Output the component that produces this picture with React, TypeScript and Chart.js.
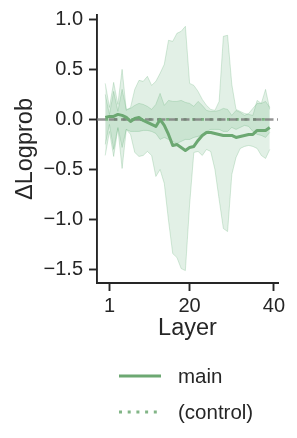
import React, { useEffect, useRef } from "react";
import { Chart, registerables } from "chart.js";

Chart.register(...registerables);

// ---------- data ----------
const LAYERS = [
  0, 1, 2, 3, 4, 5, 6, 7, 8, 9, 10, 11, 12, 13, 14, 15, 16, 17, 18, 19,
  20, 21, 22, 23, 24, 25, 26, 27, 28, 29, 30, 31, 32, 33, 34, 35, 36, 37, 38, 39,
];
const X_TICKS = [1, 20, 40];
const Y_TICKS = [-1.5, -1.0, -0.5, 0.0, 0.5, 1.0];

const MAIN = [
  0.02, 0.03, 0.03, 0.05, 0.04, 0.02, -0.02, 0.01, 0.02, -0.01,
  -0.03, -0.05, -0.07, 0.0, -0.06, -0.15, -0.26, -0.25, -0.28, -0.31,
  -0.28, -0.27, -0.21, -0.16, -0.13, -0.13, -0.14, -0.15, -0.16, -0.16,
  -0.16, -0.18, -0.17, -0.16, -0.15, -0.15, -0.11, -0.11, -0.11, -0.08,
];
const MAIN_HI = [
  0.36, 0.12, 0.37, 0.15, 0.5, 0.09, 0.12, 0.3, 0.39, 0.38,
  0.43, 0.34, 0.38, 0.46, 0.55, 0.79, 0.78, 0.86, 0.88, 0.93,
  0.36, 0.34, 0.28, 0.2, 0.14, 0.1, 0.09, 0.18, 0.83, 0.84,
  0.35, 0.1, 0.08, 0.06, 0.05, 0.04, 0.19, 0.16, 0.3, 0.1,
];
const MAIN_LO = [
  -0.36, -0.12, -0.37, -0.09, -0.49, -0.1, -0.15, -0.33, -0.37, -0.36,
  -0.32, -0.36, -0.57, -0.5, -0.64, -1.01, -1.34, -1.38, -1.49, -1.51,
  -0.85, -0.33, -0.32, -0.36, -0.3, -0.32, -0.5, -0.8, -1.09, -1.12,
  -0.55, -0.38, -0.29, -0.27, -0.26, -0.27, -0.29, -0.36, -0.39, -0.3,
];
const CONTROL = [
  0, 0, 0, 0, 0, 0, 0, 0, 0, 0,
  0, 0, 0, 0, 0, 0, 0, 0, 0, 0,
  0, 0, 0, 0, 0, 0, 0, 0, 0, 0,
  0, 0, 0, 0, 0, 0, 0, 0, 0, 0,
];
const CONTROL_HI = [
  0.25, 0.05, 0.28, 0.08, 0.3, 0.1, 0.11, 0.14, 0.16, 0.15,
  0.13, 0.1, 0.15, 0.26, 0.14, 0.19, 0.18, 0.18, 0.19, 0.17,
  0.16, 0.13, 0.18, 0.14, 0.09, 0.08, 0.08, 0.09, 0.11, 0.1,
  0.04, 0.09, 0.07, 0.04, 0.06, 0.11, 0.16, 0.16, 0.18, 0.12,
];
const CONTROL_LO = [
  -0.25, -0.05, -0.3, -0.08, -0.28, -0.1, -0.12, -0.12, -0.12, -0.11,
  -0.11, -0.12, -0.14, -0.2, -0.18, -0.2, -0.22, -0.24, -0.22, -0.2,
  -0.2, -0.18, -0.17, -0.15, -0.12, -0.1, -0.1, -0.1, -0.12, -0.12,
  -0.08, -0.1, -0.08, -0.06, -0.07, -0.12, -0.15, -0.16, -0.18, -0.13,
];
const ZERO_LINE = 0;

// ---------- style ----------
const FONT = "'Liberation Sans', Arial, Helvetica, sans-serif";
const INK = "#262626";
const GREEN = "rgb(108,168,114)";
const GREEN_DOT = "rgba(108,168,114,0.85)";
const BAND_FILL = "rgba(85,168,104,0.17)";
const BAND_EDGE = "rgba(85,168,104,0.24)";
const ZERO_COLOR = "rgba(120,120,120,0.8)";

const pts = (arr: number[]) => LAYERS.map((x, i) => ({ x, y: arr[i] }));

const zeroLinePlugin = {
  id: "zeroLine",
  beforeDatasetDraw(chart: any, args: any) {
    if (args.index !== 0) return;
    const { ctx, chartArea, scales } = chart;
    const y = scales.y.getPixelForValue(ZERO_LINE);
    ctx.save();
    ctx.strokeStyle = ZERO_COLOR;
    ctx.lineWidth = 2.5;
    ctx.setLineDash([8.5, 3.5]);
    ctx.beginPath();
    ctx.moveTo(chartArea.left, y);
    ctx.lineTo(chartArea.right, y);
    ctx.stroke();
    ctx.restore();
  },
};

const legendPlugin = {
  id: "lineLegend",
  afterDraw(chart: any) {
    const { ctx, chartArea } = chart;
    const items = chart.data.datasets.filter((d: any) => d.label);
    ctx.save();
    ctx.font = `20.5px ${FONT}`;
    ctx.textBaseline = "middle";
    ctx.textAlign = "left";
    items.forEach((ds: any, r: number) => {
      const y = chartArea.bottom + 93 + r * 36;
      const x0 = chartArea.left + 22;
      ctx.strokeStyle = ds.borderColor;
      ctx.lineWidth = ds.borderWidth;
      ctx.setLineDash(ds.borderDash || []);
      ctx.beginPath();
      ctx.moveTo(x0, y);
      ctx.lineTo(x0 + 42, y);
      ctx.stroke();
      ctx.setLineDash([]);
      ctx.fillStyle = INK;
      ctx.fillText(ds.label, x0 + 59, y + 1);
    });
    ctx.restore();
  },
};

export default function App() {
  const ref = useRef<HTMLCanvasElement | null>(null);

  useEffect(() => {
    if (!ref.current) return;
    const tickFont = { family: FONT, size: 20 };
    const titleFont = { family: FONT, size: 23.5 };
    const chart = new Chart(ref.current, {
      type: "line",
      data: {
        datasets: [
          {
            label: "main",
            data: pts(MAIN),
            borderColor: GREEN,
            borderWidth: 3,
            borderJoinStyle: "round",
            pointRadius: 0,
            fill: false,
            tension: 0,
          },
          {
            label: "(control)",
            data: pts(CONTROL),
            borderColor: GREEN_DOT,
            borderWidth: 2.8,
            borderDash: [3, 5.7],
            pointRadius: 0,
            fill: false,
          },
          {
            label: "",
            data: pts(CONTROL_HI),
            borderColor: BAND_EDGE,
            backgroundColor: BAND_FILL,
            borderWidth: 1,
            pointRadius: 0,
            fill: "+1",
          },
          {
            label: "",
            data: pts(CONTROL_LO),
            borderColor: BAND_EDGE,
            borderWidth: 1,
            pointRadius: 0,
            fill: false,
          },
          {
            label: "",
            data: pts(MAIN_HI),
            borderColor: BAND_EDGE,
            backgroundColor: BAND_FILL,
            borderWidth: 1,
            pointRadius: 0,
            fill: "+1",
          },
          {
            label: "",
            data: pts(MAIN_LO),
            borderColor: BAND_EDGE,
            borderWidth: 1,
            pointRadius: 0,
            fill: false,
          },
        ],
      },
      options: {
        responsive: false,
        animation: false,
        devicePixelRatio: 1,
        layout: { padding: { top: 15, right: 19, bottom: 95, left: 0 } },
        plugins: {
          legend: { display: false },
          tooltip: { enabled: false },
        },
        scales: {
          x: {
            type: "linear",
            min: -1.95,
            max: 40.95,
            afterBuildTicks: (s: any) => {
              s.ticks = X_TICKS.map((v) => ({ value: v }));
            },
            afterFit: (s: any) => {
              s.height = 60;
              s.paddingLeft = 0;
              s.paddingRight = 0;
            },
            ticks: {
              font: tickFont,
              color: INK,
              padding: 3,
              maxRotation: 0,
              autoSkip: false,
              callback: (v: any) => String(v),
            },
            grid: {
              display: true,
              drawOnChartArea: false,
              drawTicks: true,
              tickLength: 8,
              tickWidth: 1.9,
              tickColor: INK,
            },
            border: { display: true, color: INK, width: 1.9 },
            title: {
              display: true,
              text: "Layer",
              font: titleFont,
              color: INK,
              padding: 0,
            },
          },
          y: {
            type: "linear",
            min: -1.634,
            max: 1.043,
            afterBuildTicks: (s: any) => {
              s.ticks = Y_TICKS.map((v) => ({ value: v }));
            },
            afterFit: (s: any) => {
              s.width = 97;
              s.paddingTop = 0;
              s.paddingBottom = 0;
            },
            ticks: {
              font: tickFont,
              color: INK,
              padding: 6,
              callback: (v: any) => Number(v).toFixed(1).replace("-", "\u2212"),
            },
            grid: {
              display: true,
              drawOnChartArea: false,
              drawTicks: true,
              tickLength: 8,
              tickWidth: 1.9,
              tickColor: INK,
            },
            border: { display: true, color: INK, width: 1.9 },
            title: {
              display: true,
              text: "ΔLogprob",
              font: titleFont,
              color: INK,
              padding: { top: 11, bottom: 0 },
            },
          },
        },
      },
      plugins: [zeroLinePlugin, legendPlugin],
    } as any);
    return () => chart.destroy();
  }, []);

  return (
    <div style={{ position: "fixed", left: 0, top: 0, width: 297, height: 438, background: "#fff" }}>
      <canvas ref={ref} width={297} height={438} style={{ display: "block" }} />
    </div>
  );
}
